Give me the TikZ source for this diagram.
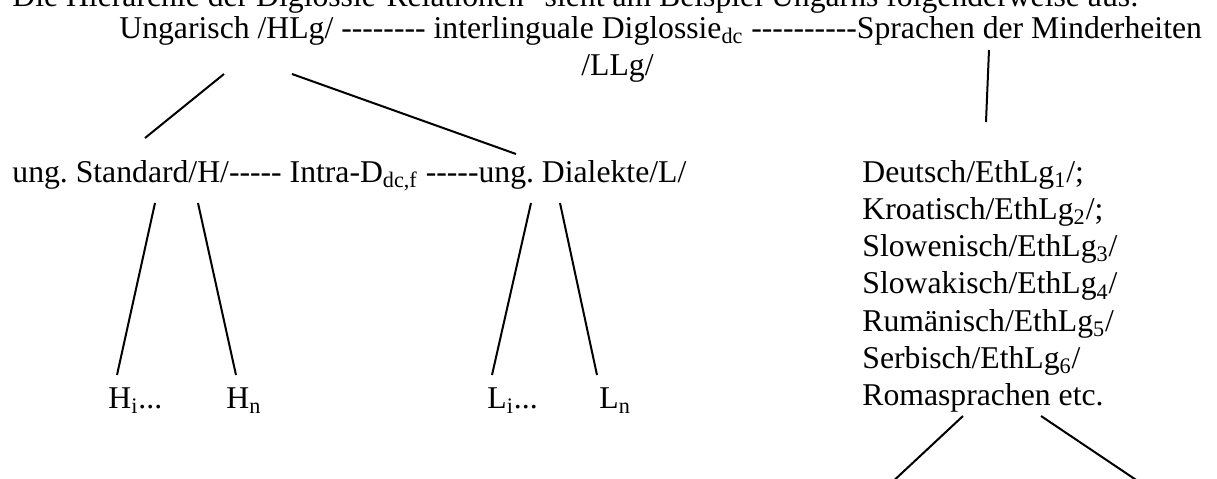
\documentclass[tikz,border=0pt]{standalone}
\usepackage{fontspec}
\setmainfont{Liberation Serif}[Ligatures=TeXOff]
\usepackage{tikz}
\newcommand{\lo}[1]{\textsubscript{#1}}

\begin{document}
\begin{tikzpicture}[x=0.5pt, y=-0.5pt, every node/.style={inner sep=0pt, anchor=base west, font=\fontsize{15.85}{18.65}\selectfont\frenchspacing}, branch/.style={line width=1pt}]
\useasboundingbox (0,0) rectangle (1217,478);
\clip (0,0) rectangle (1217,478);
% line above, cut off by the page
\node (intro) at (12,6.5) {Die Hierarchie der Diglossie-Relationen" sieht am Beispiel Ungarns folgenderweise aus:};
\node (top) at (119,38) {Ungarisch /HLg/ -------- interlinguale Diglossie\lo{dc} ----------Sprachen der Minderheiten};
\node (llg) at (581,75) {/LLg/};
\node (mid) at (12,182) {ung. Standard/H/----- Intra-D\lo{dc,f} -----ung. Dialekte/L/};
\node (hi) at (108,408) {H\lo{i}...};
\node (hn) at (226,408) {H\lo{n}};
\node (li) at (487,408) {L\lo{i}...};
\node (ln) at (599,408) {L\lo{n}};
% minority languages
\node (eth1) at (862,182) {Deutsch/EthLg\lo{1}/;};
\node (eth2) at (862,219.3) {Kroatisch/EthLg\lo{2}/;};
\node (eth3) at (862,256.6) {Slowenisch/EthLg\lo{3}/};
\node (eth4) at (862,293.9) {Slowakisch/EthLg\lo{4}/};
\node (eth5) at (862,331.2) {Rumänisch/EthLg\lo{5}/};
\node (eth6) at (862,368.5) {Serbisch/EthLg\lo{6}/};
\node (roma) at (862,405.8) {Romasprachen etc.};
% branch ends
\coordinate (ung-l) at (224,74);  \coordinate (std-up) at (145,138);
\coordinate (ung-r) at (292,74);  \coordinate (dia-up) at (516,154);
\coordinate (min-dn) at (989,50); \coordinate (eth-up) at (986,122);
\coordinate (std-l) at (155,203); \coordinate (hi-up) at (117,375);
\coordinate (std-r) at (198,203); \coordinate (hn-up) at (236,375);
\coordinate (dia-l) at (531,203); \coordinate (li-up) at (492,375);
\coordinate (dia-r) at (560,203); \coordinate (ln-up) at (597,375);
\coordinate (roma-l) at (963,416); \coordinate (out-l) at (873,500);
\coordinate (roma-r) at (1041,416); \coordinate (out-r) at (1166,500);
\draw[branch] (ung-l)--(std-up); \draw[branch] (ung-r)--(dia-up);
\draw[branch] (min-dn)--(eth-up);
\draw[branch] (std-l)--(hi-up); \draw[branch] (std-r)--(hn-up);
\draw[branch] (dia-l)--(li-up); \draw[branch] (dia-r)--(ln-up);
\draw[branch] (roma-l)--(out-l); \draw[branch] (roma-r)--(out-r);
\end{tikzpicture}
\end{document}
